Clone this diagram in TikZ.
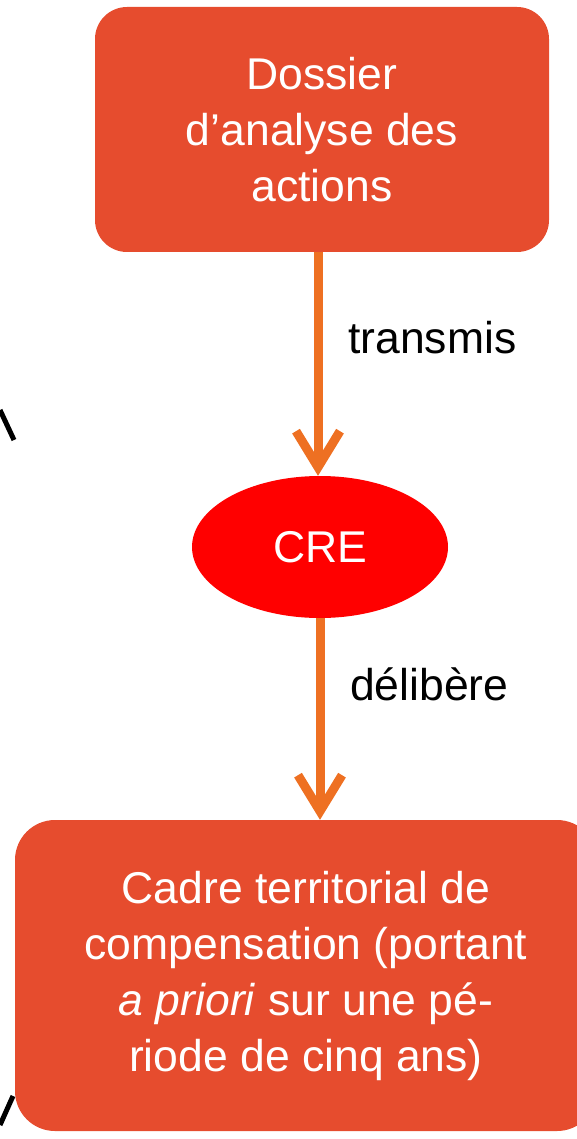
\documentclass[tikz,border=0pt]{standalone}
\usepackage{fontspec}
\setmainfont{Liberation Sans}
\usetikzlibrary{shapes.geometric,arrows.meta}
\definecolor{boxred}{HTML}{E64C2E}
\definecolor{arrorange}{HTML}{EE7022}
\definecolor{crered}{HTML}{FF0000}
\tikzset{
  bigtxt/.style={font=\fontsize{44.5}{56}\selectfont},
  stepbox/.style={fill=boxred, rounded corners=32pt, text=white, align=center, inner sep=0pt, bigtxt},
  creell/.style={ellipse, fill=crered, text=white, inner sep=0pt, bigtxt},
  arr/.style={draw=arrorange, line width=9pt, -{Straight Barb[length=36pt,width=44pt]}},
  lbl/.style={inner sep=0pt, anchor=base west, bigtxt, text=black},
  edgemark/.style={line width=5pt, black}
}
\begin{document}
\begin{tikzpicture}[x=1pt,y=-1pt]
\useasboundingbox (0,0) rectangle (577,1139);
\clip (0,0) rectangle (577,1139);
\node[stepbox, minimum width=454pt, minimum height=245pt] (top) at (322,129.5)
  {Dossier\\d’analyse des\\actions};
\node[creell, minimum width=256pt, minimum height=142pt] (cre) at (320,547) {CRE};
\node[stepbox, minimum width=582pt, minimum height=311pt, rounded corners=40pt] (bot) at (306,975.5)
  {Cadre territorial de\\compensation (portant\\\textit{a priori} sur une pé-\\riode de cinq ans)};
\draw[arr] (top.south -| 318,0) -- (cre.north -| 318,0);
\draw[arr] (cre.south) -- (cre.south |- bot.north);
\node[lbl] (l1) at (348,353) {transmis};
\node[lbl] (l2) at (350,700) {délibère};
\draw[edgemark] (0,410) -- (14,440);
\draw[edgemark] (0,1125) -- (13,1096);
\end{tikzpicture}
\end{document}
